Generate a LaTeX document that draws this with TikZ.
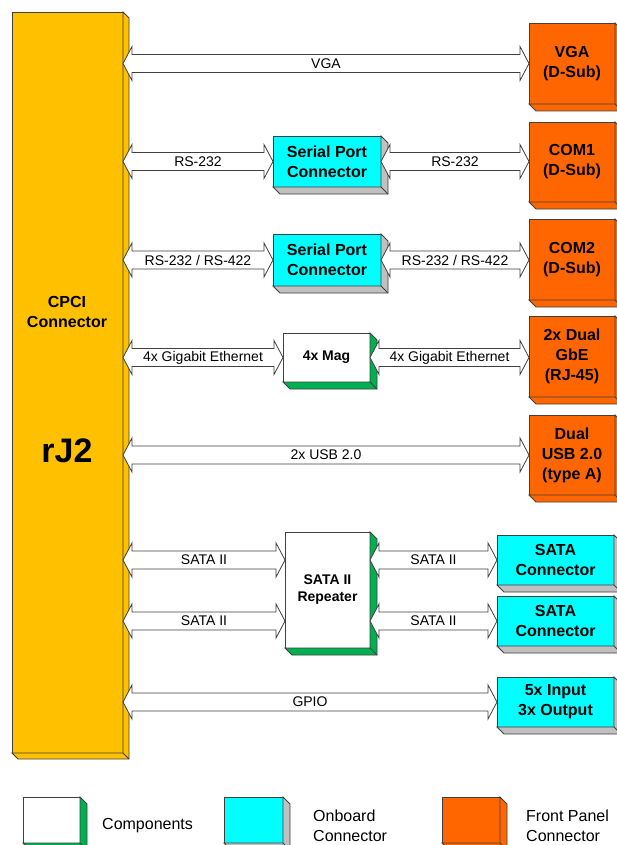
\documentclass[tikz,border=0pt]{standalone}
\usepackage{fontspec}
\setmainfont{Liberation Sans}
\setsansfont{Liberation Sans}
\usetikzlibrary{positioning,calc}
\definecolor{cpciyellow}{HTML}{FFC000}
\definecolor{onboardcyan}{HTML}{00FFFF}
\definecolor{panelorange}{HTML}{FF6600}
\definecolor{compgreen}{HTML}{00B050}
\definecolor{sidegray}{HTML}{C0C0C0}
\definecolor{linegray}{HTML}{404040}
\tikzset{
	block/.style={draw=linegray,line width=0.8pt,anchor=north west,outer sep=0pt,inner sep=0pt,
		align=center,font=\bfseries\fontsize{16}{20}\selectfont},
	component/.style={block,fill=white,font=\bfseries\fontsize{14}{17}\selectfont},
	onboard/.style={block,fill=onboardcyan},
	panel/.style={block,fill=panelorange},
	bus/.style={draw=linegray,fill=white,line width=0.8pt},
	buslabel/.style={font=\fontsize{14}{16}\selectfont,inner sep=0pt},
	legendtext/.style={anchor=west,align=left,inner sep=0pt,font=\fontsize{16}{20}\selectfont}
}
% 3d side of a box
\newcommand{\bevel}[3][7]{%
	\filldraw[draw=linegray,line width=0.8pt,fill=#3] (#2.north east) -- ++(#1,#1)
		-- ($(#2.south east)+(#1,#1)$) -- ($(#2.south west)+(#1,#1)$) -- (#2.south west)
		-- (#2.south east) -- cycle;
	\draw[linegray,line width=0.8pt] (#2.south east) -- ++(#1,#1);
}
% double block arrow between two points
\newcommand{\busarrow}[3]{%
	\draw[bus] let \p1=(#1), \p2=(#2) in
		(\x1,\y1) -- ++(9pt,17pt) -- ++(0,-8pt) -- (\x2-9pt,\y1+9pt) -- ++(0,8pt) -- (\x2,\y1)
		-- ++(-9pt,-17pt) -- ++(0,8pt) -- (\x1+9pt,\y1-9pt) -- ++(0,-8pt) -- cycle
		node[buslabel] at ({(\x1+\x2)/2},\y1) {#3};
}

\begin{document}
\begin{tikzpicture}[x=1pt,y=-1pt]
	\useasboundingbox (0,0) rectangle (617,845);
	
	\node[block,fill=cpciyellow,minimum width=111pt,minimum height=741pt] (cpci) at (12,12) {};
	\node[font=\bfseries\fontsize{16}{20}\selectfont,align=center] (cpcilabel) at (67,312) {CPCI\\Connector};
	\node[font=\bfseries\fontsize{34}{40}\selectfont] (rj) at (67,451) {rJ2};
	
	\node[panel,minimum width=86pt,minimum height=81pt] (vga) at (529,23) {VGA\\(D-Sub)};
	\node[panel,minimum width=86pt,minimum height=80pt] (com1) at (529,122) {COM1\\(D-Sub)};
	\node[panel,minimum width=86pt,minimum height=81pt] (com2) at (529,219) {COM2\\(D-Sub)};
	\node[panel,minimum width=86pt,minimum height=81pt] (gbe) at (529,316) {2x Dual\\GbE\\(RJ-45)};
	\node[panel,minimum width=86pt,minimum height=80pt] (usb) at (529,415) {Dual\\USB 2.0\\(type A)};
	
	\node[onboard,minimum width=108pt,minimum height=51pt] (ser1) at (273,136) {Serial Port\\Connector};
	\node[onboard,minimum width=108pt,minimum height=52pt] (ser2) at (273,234) {Serial Port\\Connector};
	\node[onboard,minimum width=117pt,minimum height=50pt] (sata1) at (497,535) {SATA\\Connector};
	\node[onboard,minimum width=117pt,minimum height=50pt] (sata2) at (497,596) {SATA\\Connector};
	\node[onboard,minimum width=117pt,minimum height=50pt] (gpio) at (497,677) {5x Input\\3x Output};
	
	\node[component,minimum width=87pt,minimum height=49pt] (mag) at (283,333) {4x Mag};
	\node[component,minimum width=85pt,minimum height=116pt] (rep) at (285,532) {SATA II\\Repeater};
	
	%\node legend
	\node[component,minimum width=57pt,minimum height=46pt] (legcomp) at (23,797) {};
	\node[legendtext] (legcomptext) at (102,826) {Components};
	\node[onboard,minimum width=59pt,minimum height=46pt] (legonboard) at (224,797) {};
	\node[legendtext] (legonboardtext) at (313,826) {Onboard\\Connector};
	\node[panel,minimum width=58pt,minimum height=46pt] (legpanel) at (442,797) {};
	\node[legendtext] (legpaneltext) at (526,826) {Front Panel\\Connector};
	
	\bevel[6]{cpci}{cpciyellow}
	\bevel{vga}{panelorange}
	\bevel{com1}{panelorange}
	\bevel{com2}{panelorange}
	\bevel{gbe}{panelorange}
	\bevel{usb}{panelorange}
	\bevel{legpanel}{panelorange}
	\bevel{ser1}{sidegray}
	\bevel{ser2}{sidegray}
	\bevel{sata1}{sidegray}
	\bevel{sata2}{sidegray}
	\bevel{gpio}{sidegray}
	\bevel{legonboard}{sidegray}
	\bevel{mag}{compgreen}
	\bevel{rep}{compgreen}
	\bevel{legcomp}{compgreen}
	
	\busarrow{cpci.east |- vga.west}{vga.west}{VGA}
	\busarrow{cpci.east |- ser1.west}{ser1.west}{RS-232}
	\busarrow{ser1.east}{com1.west}{RS-232}
	\busarrow{cpci.east |- ser2.west}{ser2.west}{RS-232 / RS-422}
	\busarrow{ser2.east}{com2.west}{RS-232 / RS-422}
	\busarrow{cpci.east |- mag.west}{mag.west}{4x Gigabit Ethernet}
	\busarrow{mag.east}{gbe.west}{4x Gigabit Ethernet}
	\busarrow{cpci.east |- usb.west}{usb.west}{2x USB 2.0}
	\busarrow{cpci.east |- sata1.west}{rep.west |- sata1.west}{SATA II}
	\busarrow{rep.east |- sata1.west}{sata1.west}{SATA II}
	\busarrow{cpci.east |- sata2.west}{rep.west |- sata2.west}{SATA II}
	\busarrow{rep.east |- sata2.west}{sata2.west}{SATA II}
	\busarrow{cpci.east |- gpio.west}{gpio.west}{GPIO}
\end{tikzpicture}
\end{document}
